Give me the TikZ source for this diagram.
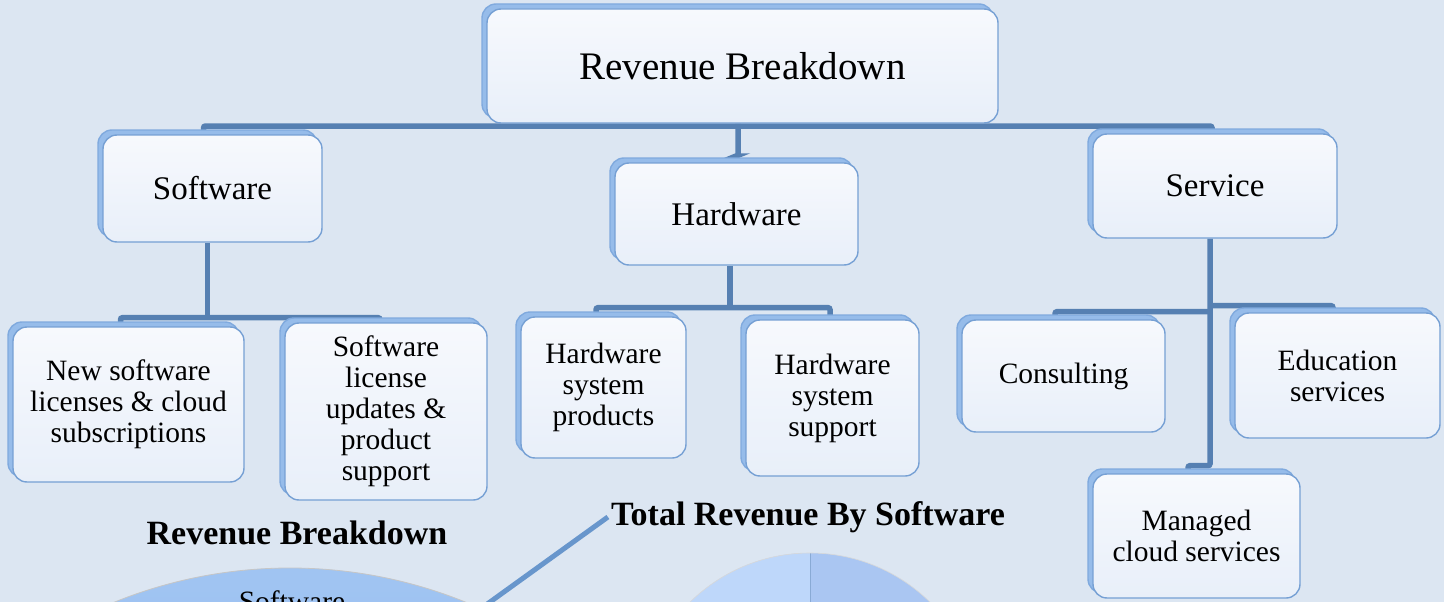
\documentclass[tikz,border=0pt]{standalone}
\usepackage{fontspec}
\setmainfont{Liberation Serif}
\usetikzlibrary{shadows,calc}
\definecolor{bgc}{RGB}{220,230,242}
\definecolor{connc}{RGB}{86,128,178}
\definecolor{leadc}{RGB}{104,150,204}
\definecolor{boxedge}{RGB}{118,160,212}
\definecolor{shadedge}{RGB}{128,170,222}
\definecolor{shadfill}{RGB}{150,188,234}
\definecolor{facetop}{RGB}{247,249,253}
\definecolor{facebot}{RGB}{232,239,249}
\definecolor{pieA}{RGB}{160,196,242}
\definecolor{pieB}{RGB}{140,180,234}
\definecolor{pieL}{RGB}{190,215,250}
\definecolor{pieR}{RGB}{170,198,242}
\newcommand\szTop{\fontsize{39}{44}\selectfont}
\newcommand\szMid{\fontsize{33}{36}\selectfont}
\newcommand\szLeaf{\fontsize{29.5}{31}\selectfont}
\newcommand\szLbl{\bfseries\fontsize{34}{38}\selectfont}
\pgfdeclarelayer{bgl}
\pgfdeclarelayer{lines}
\pgfsetlayers{bgl,lines,main}
\begin{document}
\begin{tikzpicture}[x=1pt,y=-1pt,
  box/.style={draw=boxedge, line width=1.4pt, rounded corners=14pt,
    top color=facetop, bottom color=facebot, align=center, inner sep=0pt, text=black,
    copy shadow={shadow xshift=-5pt, shadow yshift=5pt, draw=shadedge, fill=shadfill, line width=1.4pt}},
  conn/.style={draw=connc, line width=5.5pt, rounded corners=2pt},
  lead/.style={draw=leadc, line width=5pt},
  lbl/.style={font=\szLbl, inner sep=0pt, text=black}]
\useasboundingbox (0,0) rectangle (1444,602);
\begin{pgfonlayer}{bgl}
\fill[bgc] (0,0) rectangle (1444,602);
\end{pgfonlayer}

% boxes
\node[box, minimum width=511pt, minimum height=114pt, font=\szTop] (top) at (742.5,66) {Revenue Breakdown};
\node[box, minimum width=219pt, minimum height=107pt, font=\szMid] (sw) at (212.5,188.5) {Software};
\node[box, minimum width=243pt, minimum height=102pt, font=\szMid] (hw) at (736.5,214) {Hardware};
\node[box, minimum width=244pt, minimum height=104pt, font=\szMid] (sv) at (1215,186) {Service};

\node[box, minimum width=231pt, minimum height=155pt, font=\szLeaf] (l1) at (128.5,404.5) {New software\\licenses \& cloud\\subscriptions};
\node[box, minimum width=202pt, minimum height=177pt, font=\szLeaf] (l2) at (386,411.5) {Software\\license\\updates \&\\product\\support};
\node[box, minimum width=165pt, minimum height=141pt, font=\szLeaf] (l3) at (603.5,387.5) {Hardware\\system\\products};
\node[box, minimum width=173pt, minimum height=156pt, font=\szLeaf] (l4) at (832.5,398) {Hardware\\system\\support};
\node[box, minimum width=203pt, minimum height=112pt, font=\szLeaf] (l5) at (1063.5,376) {Consulting};
\node[box, minimum width=205pt, minimum height=125pt, font=\szLeaf] (l6) at (1337.5,375.5) {Education\\services};
\node[box, minimum width=207pt, minimum height=124pt, font=\szLeaf] (l7) at (1196.5,536) {Managed\\cloud services};

% connectors
\coordinate (bus) at (738,126);
\begin{pgfonlayer}{lines}
\draw[conn] ([xshift=-9pt]sw.north) |- (bus) -| ([xshift=-3pt]sv.north);
\draw[conn] (top.south -| bus) -- (bus) -- ++(0,30) -| ([xshift=-2pt]hw.north);
\draw[conn] ([xshift=-5pt]sw.south) -- ++(0,75) coordinate (sj);
\draw[conn] ([xshift=-8pt]l1.north) |- (sj) -| ([xshift=-6pt]l2.north);
\draw[conn] ([xshift=-6.5pt]hw.south) -- ++(0,42) coordinate (hj);
\draw[conn] ([xshift=-7.5pt]l3.north) |- (hj) -| ([xshift=-2.5pt]l4.north);
\draw[conn] ([xshift=-5pt]sv.south) -- ++(0,227) -| ([xshift=-8.5pt]l7.north);
\draw[conn] ([xshift=-8.5pt]l5.north) |- ($(sv.south)+(-5,73)$);
\draw[conn] ([xshift=-4.5pt]l6.north) |- ($(sv.south)+(-5,67)$);
\end{pgfonlayer}

% bottom charts
\begin{scope}
\clip (0,0) rectangle (1444,602);
\shade[top color=pieA, bottom color=pieB, draw=gray!45, line width=0.8pt] (290,1035) circle (467);
\node[font=\szLeaf, anchor=base] (p1t) at (292,611) {Software};
\fill[pieR] (810,724) circle (171);
\begin{scope}
\clip (810,724) circle (171);
\fill[pieL] (600,500) rectangle (810,700);
\draw[pieB!80!gray, line width=0.8pt] (810,553) -- (810,700);
\end{scope}
\draw[gray!30, line width=0.6pt] (810,724) circle (171);
\node[lbl] (rb) at (297,533) {Revenue Breakdown};
\node[lbl] (tr) at (808,517) {Total Revenue By Software};
\coordinate (leadend) at (472,615);
\draw[lead] ([xshift=-3pt]tr.west) -- (leadend);
\end{scope}
\end{tikzpicture}
\end{document}
